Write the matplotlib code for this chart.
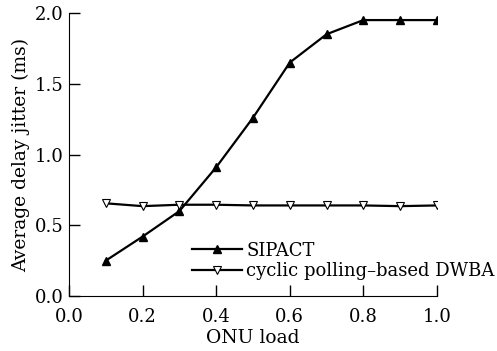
import matplotlib
matplotlib.use("Agg")
import matplotlib.pyplot as plt

# ONU load vs average delay jitter
load = [0.1, 0.2, 0.3, 0.4, 0.5, 0.6, 0.7, 0.8, 0.9, 1.0]
sipact = [0.25, 0.42, 0.60, 0.91, 1.26, 1.65, 1.85, 1.95, 1.95, 1.95]
cyclic = [0.655, 0.635, 0.645, 0.645, 0.64, 0.64, 0.64, 0.64, 0.635, 0.64]

plt.rcParams['font.family'] = ['DejaVu Serif']
plt.rcParams['font.size'] = 13

fig = plt.figure(figsize=(4.97, 3.51), dpi=100)
ax = fig.add_axes([69 / 497, 55 / 351, (437 - 69) / 497, (296 - 13) / 351])

ax.plot(load, sipact, color='black', lw=1.6, marker='^', ms=5.5,
        mfc='black', mec='black', label='SIPACT')
ax.plot(load, cyclic, color='black', lw=1.6, marker='v', ms=6,
        mfc='white', mec='black', mew=0.8, label='cyclic polling\u2013based DWBA')

ax.set_xlim(0.0, 1.0)
ax.set_ylim(0.0, 2.0)
ax.set_xticks([0.0, 0.2, 0.4, 0.6, 0.8, 1.0])
ax.set_yticks([0.0, 0.5, 1.0, 1.5, 2.0])
ax.set_xticklabels(['0.0', '0.2', '0.4', '0.6', '0.8', '1.0'])
ax.set_yticklabels(['0.0', '0.5', '1.0', '1.5', '2.0'])
ax.spines['top'].set_visible(False)
ax.spines['right'].set_visible(False)
ax.tick_params(direction='in', length=8, width=1, pad=4)
ax.tick_params(axis='x', pad=9)
ax.set_xlabel('ONU load', labelpad=2, fontsize=13.5)
ax.set_ylabel('Average delay jitter (ms)', labelpad=3, fontsize=13.5)

ax.legend(loc='lower left', bbox_to_anchor=(0.334, 0.055), frameon=False,
          handlelength=2.8, handletextpad=0.2, labelspacing=0.15,
          borderpad=0, borderaxespad=0)

fig.savefig('out.png', dpi=100)
